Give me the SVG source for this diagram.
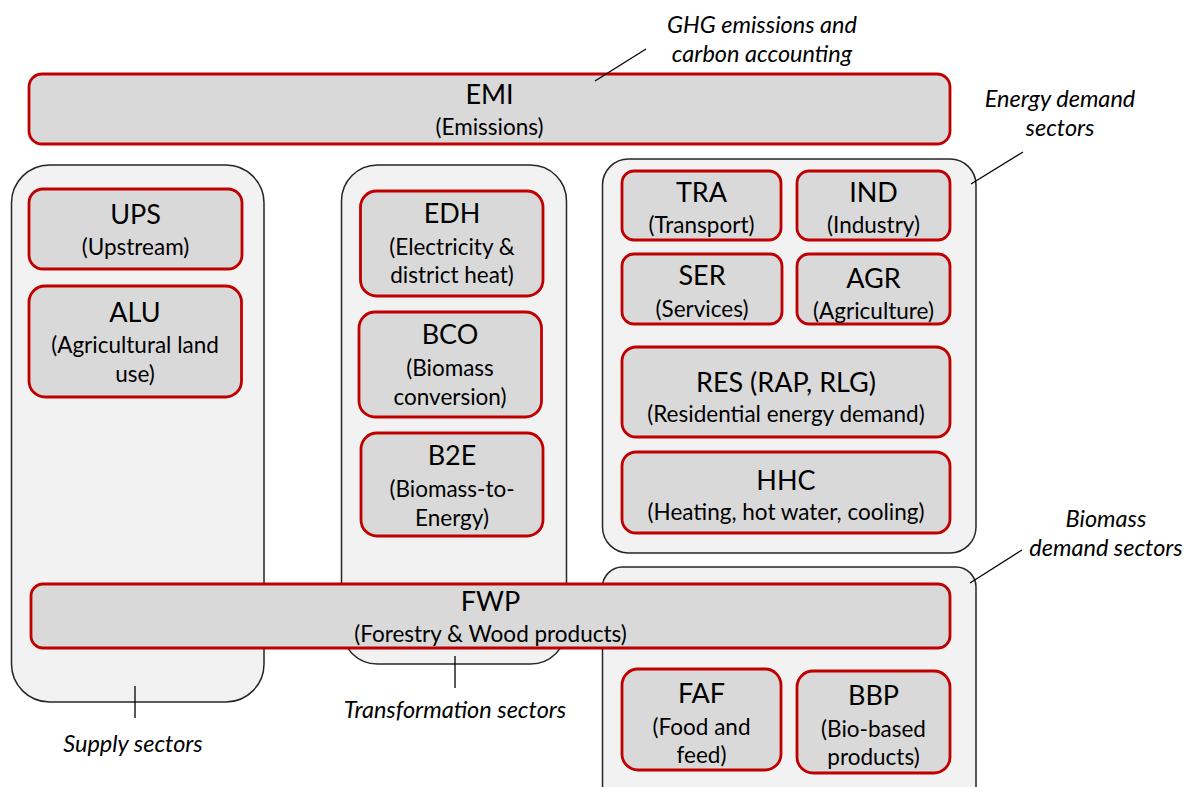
<svg xmlns="http://www.w3.org/2000/svg" width="1186" height="787" viewBox="0 0 1186 787">
<style>
.cont{fill:#F2F2F2;stroke:#262626;stroke-width:1.5}
.node{fill:#D9D9D9;stroke:#C00000;stroke-width:2.8}
.t{font-family:Lato,"Open Sans","Liberation Sans",sans-serif;font-size:27px;fill:#000;text-anchor:middle}
.s{font-family:Lato,"Open Sans","Liberation Sans",sans-serif;font-size:22.5px;fill:#000;text-anchor:middle}
.a{font-family:Lato,"Open Sans","Liberation Sans",sans-serif;font-size:23.5px;font-style:italic;fill:#000;text-anchor:middle}
.lead{stroke:#000;stroke-width:1.3;fill:none}
</style>
<rect width="1186" height="787" fill="#fff"/>
<g id="containers">
<rect id="supply" class="cont" x="11.5" y="165" width="252.5" height="537" rx="38"/>
<rect id="transformation" class="cont" x="341.5" y="165" width="225" height="499" rx="36"/>
<rect id="energy-demand" class="cont" x="602.5" y="159" width="373.5" height="394" rx="26"/>
<rect id="biomass-demand" class="cont" x="602.5" y="567" width="373.5" height="240" rx="20"/>
</g>
<g id="EMI"><rect class="node" x="29" y="74" width="921" height="70" rx="13"/><text class="t" x="489.5" y="104">EMI</text><text class="s" x="489.5" y="135">(Emissions)</text></g>
<g id="UPS"><rect class="node" x="29" y="189" width="213" height="80" rx="14"/><text class="t" x="135.5" y="224">UPS</text><text class="s" x="135.5" y="255">(Upstream)</text></g>
<g id="ALU"><rect class="node" x="29" y="286" width="212.5" height="111" rx="16"/><text class="t" x="135" y="322">ALU</text><text class="s" x="135" y="353">(Agricultural land</text><text class="s" x="135" y="382">use)</text></g>
<g id="EDH"><rect class="node" x="360.5" y="191" width="182.5" height="105" rx="16"/><text class="t" x="452" y="223">EDH</text><text class="s" x="452" y="255">(Electricity &amp;</text><text class="s" x="452" y="283">district heat)</text></g>
<g id="BCO"><rect class="node" x="359" y="312" width="182.5" height="105" rx="16"/><text class="t" x="450" y="344">BCO</text><text class="s" x="450" y="376">(Biomass</text><text class="s" x="450" y="405">conversion)</text></g>
<g id="B2E"><rect class="node" x="361" y="433" width="182" height="103" rx="16"/><text class="t" x="452" y="465">B2E</text><text class="s" x="452" y="497">(Biomass-to-</text><text class="s" x="452" y="526">Energy)</text></g>
<g id="TRA"><rect class="node" x="622" y="171" width="159" height="69" rx="12"/><text class="t" x="701.5" y="202">TRA</text><text class="s" x="701.5" y="233">(Transport)</text></g>
<g id="IND"><rect class="node" x="797" y="171" width="153" height="69" rx="12"/><text class="t" x="873.5" y="202">IND</text><text class="s" x="873.5" y="233">(Industry)</text></g>
<g id="SER"><rect class="node" x="622" y="254" width="160" height="70" rx="12"/><text class="t" x="702" y="285">SER</text><text class="s" x="702" y="317">(Services)</text></g>
<g id="AGR"><rect class="node" x="797" y="254" width="153" height="70" rx="12"/><text class="t" x="873.5" y="288">AGR</text><text class="s" x="873.5" y="319">(Agriculture)</text></g>
<g id="RES"><rect class="node" x="622" y="347" width="328" height="90" rx="14"/><text class="t" x="786" y="392">RES (RAP, RLG)</text><text class="s" x="786" y="422">(Residential energy demand)</text></g>
<g id="HHC"><rect class="node" x="622" y="452" width="328" height="81" rx="14"/><text class="t" x="786" y="490">HHC</text><text class="s" x="786" y="520">(Heating, hot water, cooling)</text></g>
<g id="FWP"><rect class="node" x="31" y="584" width="919" height="64" rx="12"/><text class="t" x="490.5" y="611">FWP</text><text class="s" x="490.5" y="642">(Forestry &amp; Wood products)</text></g>
<g id="FAF"><rect class="node" x="622" y="669" width="159" height="101" rx="16"/><text class="t" x="701.5" y="703">FAF</text><text class="s" x="701.5" y="735">(Food and</text><text class="s" x="701.5" y="763">feed)</text></g>
<g id="BBP"><rect class="node" x="797" y="671" width="153" height="102" rx="16"/><text class="t" x="873.5" y="705">BBP</text><text class="s" x="873.5" y="737">(Bio-based</text><text class="s" x="873.5" y="765">products)</text></g>
<g id="connectors">
<line class="lead" x1="595" y1="81" x2="646" y2="49"/>
<line class="lead" x1="971" y1="184" x2="1023" y2="152"/>
<line class="lead" x1="970" y1="583" x2="1022" y2="550"/>
<line class="lead" x1="135" y1="686" x2="135" y2="718"/>
<line class="lead" x1="455" y1="656" x2="455" y2="688"/>
</g>
<g id="labels">
<text class="a" x="762" y="33">GHG emissions and</text>
<text class="a" x="762" y="62">carbon accounting</text>
<text class="a" x="1060" y="107">Energy demand</text>
<text class="a" x="1060" y="136">sectors</text>
<text class="a" x="1106" y="527">Biomass</text>
<text class="a" x="1106" y="556">demand sectors</text>
<text class="a" x="133" y="752">Supply sectors</text>
<text class="a" x="455" y="718">Transformation sectors</text>
</g>
</svg>
